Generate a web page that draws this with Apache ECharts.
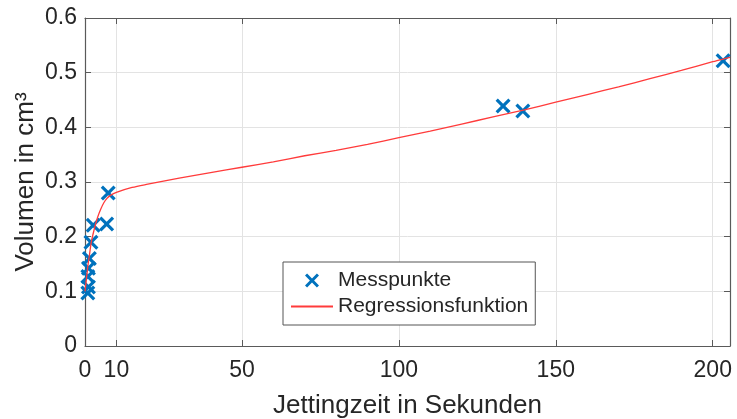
<!DOCTYPE html>
<html>
<head>
<meta charset="utf-8">
<script src="https://cdn.jsdelivr.net/npm/echarts@6/dist/echarts.min.js"></script>
<style>
  html, body { margin: 0; padding: 0; background: #fff; }
  #chart { width: 737px; height: 419px; }
</style>
</head>
<body>
<div id="chart"></div>
<script>
// Measured points: jetting time (s) and volume (cm³)
const messX = [0.9, 1.1, 0.9, 1.1, 1.4, 1.9, 2.6, 6.9, 7.4, 133.2, 139.5, 203.3];
const messY = [0.097, 0.108, 0.127, 0.142, 0.160, 0.190, 0.221, 0.223, 0.280, 0.439, 0.430, 0.522];

// Regression curve, sampled
const regX = [0, 0.5, 1, 1.5, 2, 3, 4, 5, 6, 7, 8, 10, 15, 20, 30, 40, 50, 60, 70, 80, 90,
              100, 110, 120, 130, 140, 150, 160, 170, 180, 190, 200, 205.5];
const regY = [0.100, 0.125, 0.150, 0.170, 0.190, 0.215, 0.235, 0.250, 0.262, 0.270, 0.275, 0.281,
              0.290, 0.296, 0.307, 0.317, 0.327, 0.337, 0.348, 0.358, 0.369,
              0.381, 0.393, 0.406, 0.419, 0.432, 0.446, 0.460, 0.474, 0.489, 0.504, 0.520, 0.528];

const xTicks = [0, 10, 50, 100, 150, 200];

const FONT = '"Liberation Sans", Arial, sans-serif';
const TXT = '#262626';
const AX = '#5a5a5a';
const GRIDC = '#e3e3e3';
const BLUE = '#0072BD';
const RED = '#ff3b3b';
const XPATH = 'path://M1.5,0 L5,3.5 L8.5,0 L10,1.5 L6.5,5 L10,8.5 L8.5,10 L5,6.5 L1.5,10 L0,8.5 L3.5,5 L0,1.5 Z';

const chart = echarts.init(document.getElementById('chart'), null, { renderer: 'canvas' });

const baseX = {
  type: 'value', min: 0, max: 205.5,
  axisLine: { show: true, onZero: false, lineStyle: { color: AX, width: 1.2 } },
};
const baseY = {
  type: 'value', min: 0, max: 0.6, interval: 0.1,
  axisLine: { show: true, onZero: false, lineStyle: { color: AX, width: 1.2 } },
};

chart.setOption({
  animation: false,
  backgroundColor: '#fff',
  grid: { left: 85, right: 7, top: 18, bottom: 73, containLabel: false, outerBoundsMode: 'none' },
  xAxis: [
    Object.assign({}, baseX, {
      position: 'bottom',
      name: 'Jettingzeit in Sekunden',
      nameLocation: 'middle', nameGap: 47,
      nameTextStyle: { fontFamily: FONT, fontSize: 26, color: TXT },
      axisTick: { show: true, inside: true, length: 6, customValues: xTicks, lineStyle: { color: AX } },
      axisLabel: { customValues: xTicks, fontFamily: FONT, fontSize: 23, color: TXT, margin: 13 },
      splitLine: { show: true, lineStyle: { color: GRIDC, width: 1 } }
    }),
    Object.assign({}, baseX, {
      position: 'top',
      axisTick: { show: true, inside: true, length: 6, customValues: xTicks, lineStyle: { color: AX } },
      axisLabel: { show: false },
      splitLine: { show: false }
    })
  ],
  yAxis: [
    Object.assign({}, baseY, {
      position: 'left',
      name: 'Volumen in cm³',
      nameLocation: 'middle', nameGap: 46,
      nameMoveOverlap: false,
      nameTextStyle: { fontFamily: FONT, fontSize: 26, color: TXT },
      axisTick: { show: true, inside: true, length: 6, lineStyle: { color: AX } },
      axisLabel: { fontFamily: FONT, fontSize: 23, color: TXT, margin: 8 },
      splitLine: { show: true, lineStyle: { color: GRIDC, width: 1 } }
    }),
    Object.assign({}, baseY, {
      position: 'right',
      axisTick: { show: true, inside: true, length: 6, lineStyle: { color: AX } },
      axisLabel: { show: false },
      splitLine: { show: false }
    })
  ],
  legend: {
    orient: 'vertical',
    left: 283, top: 262,
    padding: [8, 7, 8, 7],
    itemGap: 5,
    itemWidth: 42, itemHeight: 14,
    borderColor: '#555', borderWidth: 1,
    backgroundColor: '#fff',
    textStyle: { fontFamily: FONT, fontSize: 21, color: TXT },
    data: [
      { name: 'Messpunkte', icon: XPATH },
      { name: 'Regressionsfunktion', itemStyle: { opacity: 0 } }
    ]
  },
  series: [
    {
      name: 'Regressionsfunktion',
      type: 'line',
      xAxisIndex: 0, yAxisIndex: 0,
      data: regX.map((x, i) => [x, regY[i]]),
      smooth: 0.3,
      symbol: 'none',
      lineStyle: { color: RED, width: 1.3 },
      itemStyle: { color: RED },
      z: 3
    },
    {
      name: 'Messpunkte',
      type: 'scatter',
      xAxisIndex: 0, yAxisIndex: 0,
      data: messX.map((x, i) => [x, messY[i]]),
      symbol: XPATH,
      symbolSize: 15,
      symbolKeepAspect: true,
      itemStyle: { color: BLUE, opacity: 1 },
      z: 2
    }
  ]
});
</script>
</body>
</html>
